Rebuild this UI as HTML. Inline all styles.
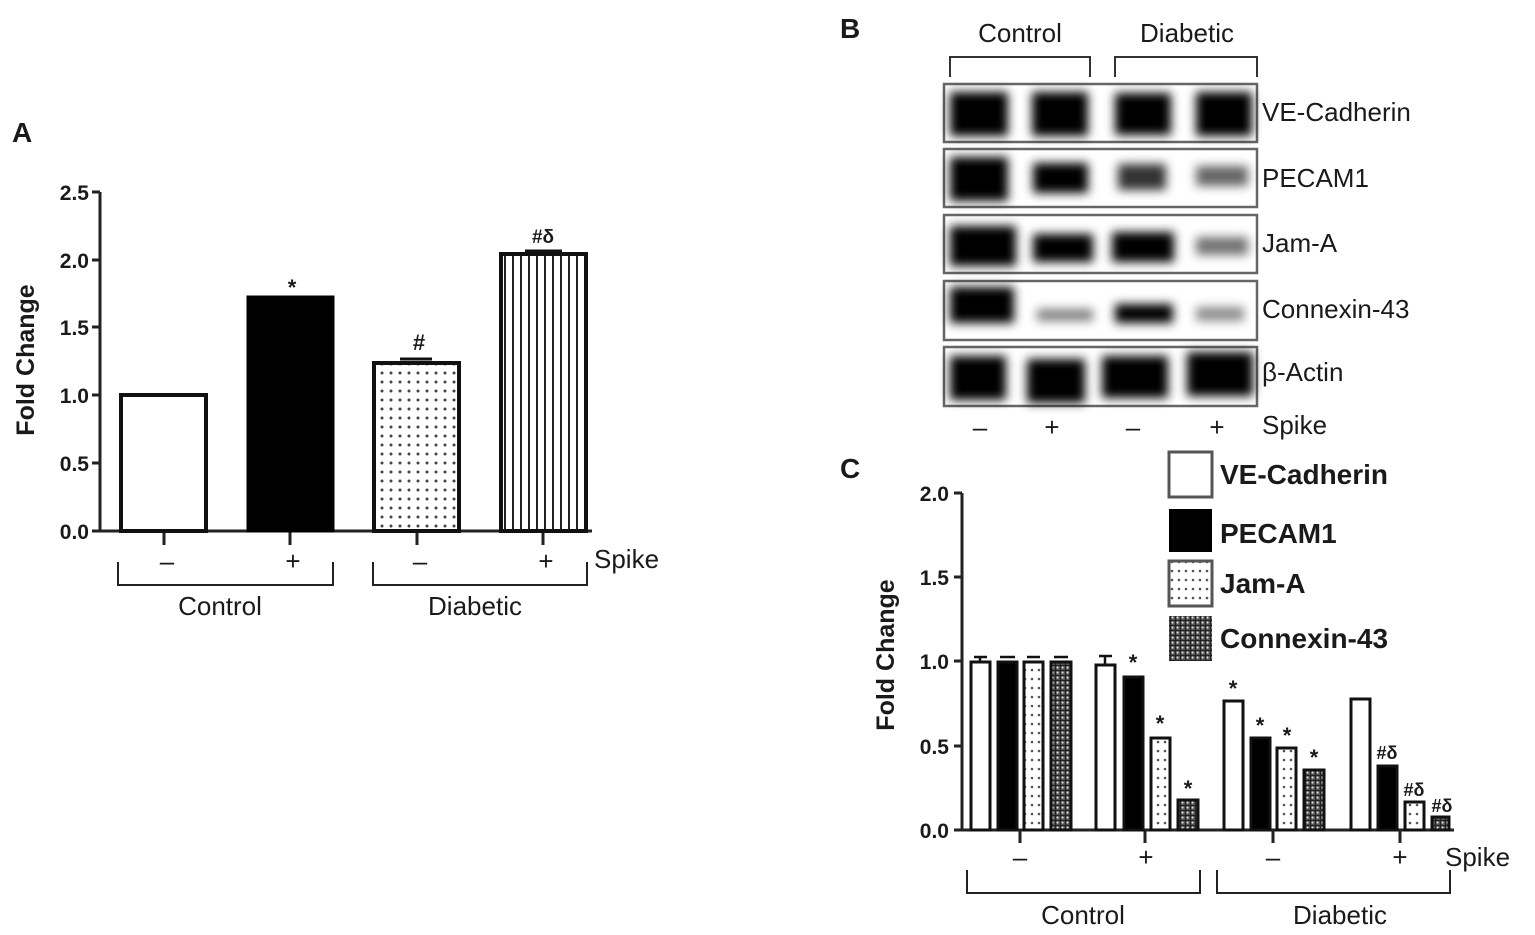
<!DOCTYPE html>
<html><head><meta charset="utf-8"><style>
html,body{margin:0;padding:0;background:#fff;}
svg{display:block;}
text{font-family:"Liberation Sans",sans-serif;fill:#1a1a1a;}
</style></head><body>
<svg width="1535" height="935" viewBox="0 0 1535 935" xmlns="http://www.w3.org/2000/svg">
<defs>
<pattern id="dots" width="9" height="9" patternUnits="userSpaceOnUse"><rect width="9" height="9" fill="#fff"/><circle cx="4" cy="4" r="1.5" fill="#444"/></pattern>
<pattern id="dotsC" width="7" height="9" patternUnits="userSpaceOnUse"><rect width="7" height="9" fill="#fff"/><circle cx="3" cy="4" r="1.3" fill="#555"/></pattern>
<pattern id="vstripe" width="8" height="10" patternUnits="userSpaceOnUse"><rect width="8" height="10" fill="#fff"/><rect x="0" width="2" height="10" fill="#222"/></pattern>
<pattern id="hatch" width="5" height="5" patternUnits="userSpaceOnUse"><rect width="5" height="5" fill="#555"/><circle cx="2.5" cy="2.5" r="1.1" fill="#ddd"/><rect width="5" height="1.2" fill="#222"/><rect width="1.2" height="5" fill="#222"/></pattern>
<filter id="bl" x="-30%" y="-50%" width="160%" height="200%"><feGaussianBlur stdDeviation="5"/></filter>
</defs>

<!-- Panel A -->
<text x="12" y="142" font-size="28" font-weight="bold">A</text>
<g stroke="#222" stroke-width="3" fill="none">
<line x1="100" y1="192" x2="100" y2="531"/>
<line x1="100" y1="531" x2="592" y2="531"/>
<line x1="92" y1="192" x2="100" y2="192"/><line x1="92" y1="260" x2="100" y2="260"/><line x1="92" y1="327" x2="100" y2="327"/><line x1="92" y1="395" x2="100" y2="395"/><line x1="92" y1="463" x2="100" y2="463"/><line x1="92" y1="531" x2="100" y2="531"/>
<line x1="164" y1="531" x2="164" y2="545"/><line x1="290" y1="531" x2="290" y2="545"/><line x1="417" y1="531" x2="417" y2="545"/><line x1="543" y1="531" x2="543" y2="545"/>
<polyline stroke-width="2" points="118,562 118,585 333,585 333,562"/>
<polyline stroke-width="2" points="373,562 373,585 587,585 587,562"/>
</g>
<g font-size="21" font-weight="bold" text-anchor="end">
<text x="89" y="200">2.5</text><text x="89" y="268">2.0</text><text x="89" y="335">1.5</text><text x="89" y="403">1.0</text><text x="89" y="471">0.5</text><text x="89" y="539">0.0</text>
</g>
<text transform="translate(34,360) rotate(-90)" font-size="25" font-weight="bold" text-anchor="middle">Fold Change</text>
<rect x="121" y="395" width="85" height="136" fill="#fff" stroke="#111" stroke-width="4"/>
<rect x="248" y="297" width="85" height="234" fill="#000" stroke="#000" stroke-width="3"/>
<rect x="374" y="363" width="85" height="168" fill="url(#dots)" stroke="#111" stroke-width="4"/>
<rect x="501" y="254" width="85" height="277" fill="url(#vstripe)" stroke="#111" stroke-width="4"/>
<line x1="400" y1="359" x2="432" y2="359" stroke="#111" stroke-width="3"/>
<line x1="525" y1="251" x2="562" y2="251" stroke="#111" stroke-width="3"/>
<g font-size="22" font-weight="bold" text-anchor="middle">
<text x="292" y="295">*</text><text x="419" y="350">#</text><text x="543" y="243" font-size="19">#δ</text>
</g>
<g font-size="26" text-anchor="middle">
<text x="167" y="570">–</text><text x="293" y="570">+</text><text x="420" y="570">–</text><text x="546" y="570">+</text>
<text x="220" y="615">Control</text><text x="475" y="615">Diabetic</text>
</g>
<text x="594" y="568" font-size="26">Spike</text>

<!-- Panel B -->
<text x="840" y="38" font-size="28" font-weight="bold">B</text>
<g font-size="26" text-anchor="middle"><text x="1020" y="42">Control</text><text x="1187" y="42">Diabetic</text></g>
<g stroke="#333" stroke-width="2" fill="none">
<polyline points="950,77 950,57 1090,57 1090,77"/>
<polyline points="1115,77 1115,57 1257,57 1257,77"/>
</g>
<g stroke="#666" stroke-width="2.5" fill="#fff">
<rect x="944" y="84" width="313" height="58"/>
<rect x="944" y="149" width="313" height="58"/>
<rect x="944" y="215" width="313" height="58"/>
<rect x="944" y="281" width="313" height="59"/>
<rect x="944" y="347" width="313" height="59"/>
</g>
<g fill="#000" filter="url(#bl)">
<rect x="950" y="92" width="58" height="44"/><rect x="1032" y="92" width="56" height="44"/><rect x="1115" y="93" width="56" height="42"/><rect x="1196" y="92" width="56" height="44"/>
<rect x="950" y="157" width="58" height="44"/><rect x="1033" y="163" width="55" height="30"/><rect x="1118" y="164" width="48" height="26" opacity="0.8"/><rect x="1196" y="166" width="52" height="20" opacity="0.6"/>
<rect x="950" y="226" width="66" height="40"/><rect x="1033" y="234" width="60" height="28"/><rect x="1112" y="232" width="62" height="30"/><rect x="1196" y="237" width="52" height="18" opacity="0.55"/>
<rect x="950" y="287" width="64" height="36"/><rect x="1037" y="309" width="56" height="12" opacity="0.5"/><rect x="1115" y="304" width="58" height="19"/><rect x="1196" y="307" width="48" height="14" opacity="0.45"/>
<rect x="950" y="356" width="56" height="44"/><rect x="1027" y="359" width="58" height="44"/><rect x="1102" y="356" width="66" height="42"/><rect x="1187" y="352" width="66" height="44"/>
</g>
<g font-size="26"><text x="1262" y="121">VE-Cadherin</text><text x="1262" y="187">PECAM1</text><text x="1262" y="252">Jam-A</text><text x="1262" y="318">Connexin-43</text><text x="1262" y="381">β-Actin</text><text x="1262" y="434">Spike</text></g>
<g font-size="26" text-anchor="middle"><text x="980" y="436">–</text><text x="1052" y="436">+</text><text x="1133" y="436">–</text><text x="1217" y="436">+</text></g>

<!-- Panel C -->
<text x="840" y="478" font-size="28" font-weight="bold">C</text>
<g stroke="#222" stroke-width="3" fill="none">
<line x1="962" y1="493" x2="962" y2="830"/>
<line x1="962" y1="830" x2="1454" y2="830"/>
<line x1="954" y1="493" x2="962" y2="493"/><line x1="954" y1="577" x2="962" y2="577"/><line x1="954" y1="661" x2="962" y2="661"/><line x1="954" y1="746" x2="962" y2="746"/><line x1="954" y1="830" x2="962" y2="830"/>
<line x1="1020" y1="830" x2="1020" y2="843"/><line x1="1145" y1="830" x2="1145" y2="843"/><line x1="1273" y1="830" x2="1273" y2="843"/><line x1="1400" y1="830" x2="1400" y2="843"/>
<polyline stroke-width="2" points="967,870 967,893 1200,893 1200,870"/>
<polyline stroke-width="2" points="1217,870 1217,893 1450,893 1450,870"/>
</g>
<g font-size="21" font-weight="bold" text-anchor="end">
<text x="949" y="501">2.0</text><text x="949" y="585">1.5</text><text x="949" y="669">1.0</text><text x="949" y="754">0.5</text><text x="949" y="838">0.0</text>
</g>
<text transform="translate(894,655) rotate(-90)" font-size="25" font-weight="bold" text-anchor="middle">Fold Change</text>
<g stroke="#111" stroke-width="3">
<rect x="971" y="662" width="19" height="168" fill="#fff"/>
<rect x="998" y="662" width="19" height="168" fill="#000"/>
<rect x="1024" y="662" width="19" height="168" fill="url(#dotsC)"/>
<rect x="1051" y="662" width="20" height="168" fill="url(#hatch)"/>
<rect x="1096" y="665" width="19" height="165" fill="#fff"/>
<rect x="1124" y="677" width="19" height="153" fill="#000"/>
<rect x="1151" y="738" width="19" height="92" fill="url(#dotsC)"/>
<rect x="1178" y="800" width="20" height="30" fill="url(#hatch)"/>
<rect x="1224" y="701" width="19" height="129" fill="#fff"/>
<rect x="1251" y="738" width="19" height="92" fill="#000"/>
<rect x="1277" y="748" width="19" height="82" fill="url(#dotsC)"/>
<rect x="1304" y="770" width="20" height="60" fill="url(#hatch)"/>
<rect x="1351" y="699" width="19" height="131" fill="#fff"/>
<rect x="1378" y="766" width="19" height="64" fill="#000"/>
<rect x="1405" y="802" width="19" height="28" fill="url(#dotsC)"/>
<rect x="1432" y="817" width="17" height="13" fill="url(#hatch)"/>
</g>
<g stroke="#111" stroke-width="2.5">
<line x1="974" y1="657" x2="987" y2="657"/><line x1="980" y1="657" x2="980" y2="662"/>
<line x1="1000" y1="657" x2="1015" y2="657"/><line x1="1027" y1="657" x2="1040" y2="657"/><line x1="1054" y1="657" x2="1068" y2="657"/>
<line x1="1099" y1="656" x2="1112" y2="656"/><line x1="1105" y1="656" x2="1105" y2="665"/>
</g>
<g font-size="22" font-weight="bold" text-anchor="middle">
<text x="1133" y="670">*</text><text x="1160" y="731">*</text><text x="1188" y="796">*</text>
<text x="1233" y="696">*</text><text x="1260" y="733">*</text><text x="1287" y="743">*</text><text x="1314" y="765">*</text>
<text x="1387" y="759" font-size="18">#δ</text><text x="1414" y="796" font-size="18">#δ</text><text x="1442" y="812" font-size="18">#δ</text>
</g>
<g font-size="26" text-anchor="middle">
<text x="1020" y="866">–</text><text x="1146" y="866">+</text><text x="1273" y="866">–</text><text x="1400" y="866">+</text>
<text x="1083" y="924">Control</text><text x="1340" y="924">Diabetic</text>
</g>
<text x="1445" y="866" font-size="26">Spike</text>
<rect x="1169" y="452" width="43" height="45" fill="#fff" stroke="#555" stroke-width="3"/>
<rect x="1169" y="509" width="43" height="43" fill="#000"/>
<rect x="1169" y="561" width="43" height="45" fill="url(#dotsC)" stroke="#555" stroke-width="3"/>
<rect x="1169" y="616" width="43" height="45" fill="url(#hatch)"/>
<g font-size="28" font-weight="bold">
<text x="1220" y="484">VE-Cadherin</text><text x="1220" y="543">PECAM1</text><text x="1220" y="593">Jam-A</text><text x="1220" y="648">Connexin-43</text>
</g>
</svg>
</body></html>
